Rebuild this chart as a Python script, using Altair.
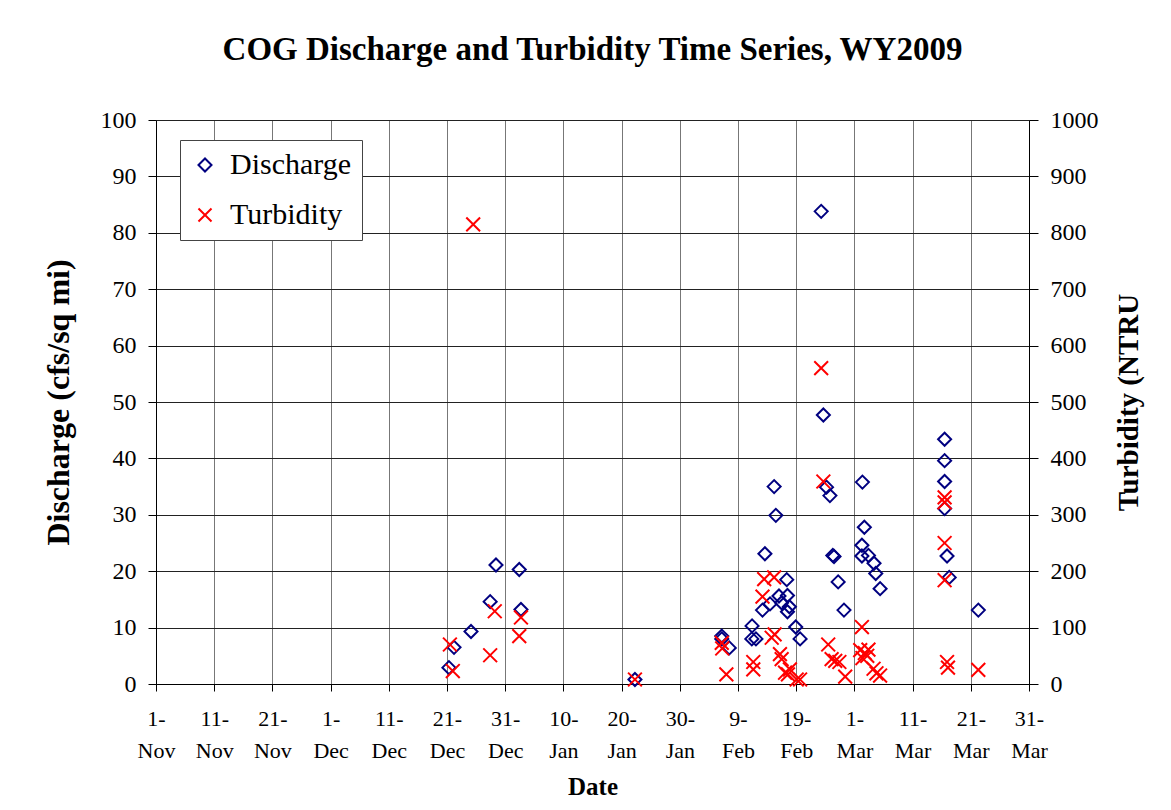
import altair as alt
import pandas as pd

# ---------------- data ----------------
discharge_dates = [
    "2008-12-21T08:00:00Z", "2008-12-22T05:00:00Z", "2008-12-25T03:00:00Z",
    "2008-12-28T10:00:00Z", "2008-12-29T10:00:00Z", "2009-01-02T10:00:00Z",
    "2009-01-02T17:00:00Z", "2009-01-22T07:00:00Z",
    "2009-02-06T05:00:00Z", "2009-02-06T05:00:00Z", "2009-02-07T12:00:00Z",
    "2009-02-11T10:00:00Z", "2009-02-11T09:00:00Z", "2009-02-12T02:00:00Z",
    "2009-02-13T05:00:00Z", "2009-02-13T15:00:00Z", "2009-02-14T12:00:00Z",
    "2009-02-15T05:00:00Z", "2009-02-15T12:00:00Z", "2009-02-16T01:00:00Z",
    "2009-02-16T12:00:00Z", "2009-02-17T09:00:00Z", "2009-02-17T12:00:00Z",
    "2009-02-17T12:00:00Z", "2009-02-17T20:00:00Z", "2009-02-18T22:00:00Z",
    "2009-02-19T16:00:00Z", "2009-02-23T07:00:00Z", "2009-02-23T16:00:00Z",
    "2009-02-24T05:00:00Z", "2009-02-24T19:00:00Z", "2009-02-25T07:00:00Z",
    "2009-02-25T12:00:00Z", "2009-02-26T05:00:00Z", "2009-02-27T05:00:00Z",
    "2009-03-02T09:00:00Z", "2009-03-02T17:00:00Z", "2009-03-02T07:00:00Z",
    "2009-03-02T07:00:00Z", "2009-03-03T10:00:00Z", "2009-03-04T09:00:00Z",
    "2009-03-04T16:00:00Z", "2009-03-05T10:00:00Z",
    "2009-03-16T12:00:00Z", "2009-03-16T12:00:00Z", "2009-03-16T12:00:00Z",
    "2009-03-16T12:00:00Z", "2009-03-16T22:00:00Z", "2009-03-17T07:00:00Z",
    "2009-03-22T07:00:00Z",
]
discharge_values = [
    2.9, 6.5, 9.3, 14.6, 21.1, 20.3, 13.2, 0.8,
    8.5, 8.0, 6.4, 10.3, 8.0, 8.0, 13.1, 23.1, 14.2, 35.0, 29.9, 15.6,
    14.4, 18.5, 15.7, 12.8, 13.7, 10.1, 8.0, 83.8, 47.7, 34.9, 33.4, 22.8,
    22.6, 18.1, 13.1,
    35.8, 27.8, 24.6, 22.7, 22.8, 21.4, 19.6, 16.9,
    43.4, 39.6, 35.9, 31.1, 22.7, 18.9, 13.1,
]

turbidity_dates = [
    "2008-12-21T12:00:00Z", "2008-12-22T00:00:00Z", "2008-12-25T12:00:00Z",
    "2008-12-28T10:00:00Z", "2008-12-29T05:00:00Z", "2009-01-02T10:00:00Z",
    "2009-01-02T17:00:00Z", "2009-01-22T07:00:00Z",
    "2009-02-06T05:00:00Z", "2009-02-06T07:00:00Z", "2009-02-07T00:00:00Z",
    "2009-02-11T15:00:00Z", "2009-02-11T15:00:00Z", "2009-02-13T05:00:00Z",
    "2009-02-13T12:00:00Z", "2009-02-15T05:00:00Z", "2009-02-14T19:00:00Z",
    "2009-02-15T07:00:00Z", "2009-02-16T05:00:00Z", "2009-02-16T12:00:00Z",
    "2009-02-17T02:00:00Z", "2009-02-17T22:00:00Z", "2009-02-17T14:00:00Z",
    "2009-02-19T02:00:00Z", "2009-02-19T16:00:00Z",
    "2009-02-23T07:00:00Z", "2009-02-23T16:00:00Z", "2009-02-24T12:00:00Z",
    "2009-02-25T02:00:00Z", "2009-02-25T17:00:00Z", "2009-02-26T10:00:00Z",
    "2009-02-27T10:00:00Z",
    "2009-03-02T07:00:00Z", "2009-03-02T00:00:00Z", "2009-03-02T19:00:00Z",
    "2009-03-03T10:00:00Z", "2009-03-02T09:00:00Z", "2009-03-03T05:00:00Z",
    "2009-03-04T07:00:00Z", "2009-03-04T19:00:00Z", "2009-03-05T10:00:00Z",
    "2009-03-16T12:00:00Z", "2009-03-16T12:00:00Z", "2009-03-16T12:00:00Z",
    "2009-03-16T12:00:00Z", "2009-03-16T22:00:00Z", "2009-03-17T02:00:00Z",
    "2009-03-22T07:00:00Z",
]
turbidity_values = [
    70, 23, 815, 51, 129, 85, 118, 8,
    73, 63, 17, 39, 26, 155, 186, 189, 82, 88, 53, 44, 20, 26, 17, 8, 8,
    560, 359, 70, 44, 41, 39, 13,
    101, 60, 55, 61, 46, 50, 27, 19, 15,
    331, 322, 250, 184, 39, 29, 25,
]

x_tick_dates = [
    (2008, 11, 1), (2008, 11, 11), (2008, 11, 21), (2008, 12, 1),
    (2008, 12, 11), (2008, 12, 21), (2008, 12, 31), (2009, 1, 10),
    (2009, 1, 20), (2009, 1, 30), (2009, 2, 9), (2009, 2, 19),
    (2009, 3, 1), (2009, 3, 11), (2009, 3, 21), (2009, 3, 31),
]
left_ticks = [0, 10, 20, 30, 40, 50, 60, 70, 80, 90, 100]
right_ticks = [0, 100, 200, 300, 400, 500, 600, 700, 800, 900, 1000]
series_names = ["Discharge", "Turbidity"]
series_colors = ["#000080", "#FF0000"]
series_shapes = ["diamond", "M-1,-1L1,1M-1,1L1,-1"]

# ---------------- tables ----------------
dis = pd.DataFrame({"Date": discharge_dates, "Value": discharge_values, "Series": "Discharge"})
tur = pd.DataFrame({"Date": turbidity_dates, "Value": turbidity_values, "Series": "Turbidity"})

FONT = "Liberation Serif"

def dt(t):
    return alt.DateTime(year=t[0], month=t[1], date=t[2], utc=True)

x_enc = alt.X(
    "Date:T",
    scale=alt.Scale(type="utc", domain=[dt(x_tick_dates[0]), dt(x_tick_dates[-1])]),
    axis=alt.Axis(
        values=[dt(t) for t in x_tick_dates],
        labelExpr="[utcFormat(datum.value, '%-d') + '-', utcFormat(datum.value, '%b')]",
        labelFont=FONT, labelFontSize=22, labelLineHeight=32, labelColor="black",
        labelAngle=0, labelFlush=False, labelOverlap=False, labelPadding=17,
        tickSize=7, tickColor="black", domainColor="black",
        grid=True, gridColor="#777777", gridWidth=1,
        title="Date", titleFont=FONT, titleFontSize=25, titleFontWeight="bold",
        titleColor="black", titlePadding=13,
    ),
)

color_enc = alt.Color(
    "Series:N",
    scale=alt.Scale(domain=series_names, range=series_colors),
    legend=alt.Legend(
        title=None, orient="none", legendX=24, legendY=20,
        fillColor="white", strokeColor="#444444", padding=10,
        labelFont=FONT, labelFontSize=30, labelColor="black",
        symbolSize=170, symbolStrokeWidth=2, symbolOpacity=1,
        labelOffset=10, rowPadding=20,
    ),
)
shape_enc = alt.Shape("Series:N", scale=alt.Scale(domain=series_names, range=series_shapes))

left = alt.Chart(dis).mark_point(filled=False, size=170, strokeWidth=2, opacity=1).encode(
    x=x_enc,
    y=alt.Y(
        "Value:Q",
        scale=alt.Scale(domain=[0, 100], nice=False),
        axis=alt.Axis(
            values=left_ticks, orient="left", format="d",
            labelFont=FONT, labelFontSize=24, labelColor="black", labelPadding=12,
            tickSize=8, tickColor="black", domainColor="black",
            grid=True, gridColor="#222222", gridWidth=1,
            title="Discharge (cfs/sq mi)", titleFont=FONT, titleFontSize=32,
            titleFontWeight="bold", titleColor="black", titlePadding=25,
        ),
    ),
    color=color_enc,
    shape=shape_enc,
)

right = alt.Chart(tur).mark_point(filled=False, size=190, strokeWidth=2, opacity=1).encode(
    x=x_enc,
    y=alt.Y(
        "Value:Q",
        scale=alt.Scale(domain=[0, 1000], nice=False),
        axis=alt.Axis(
            values=right_ticks, orient="right", format="d",
            labelFont=FONT, labelFontSize=24, labelColor="black", labelPadding=12,
            tickSize=9, tickColor="black", domainColor="black",
            grid=False,
            title="Turbidity (NTRU", titleFont=FONT, titleFontSize=29,
            titleFontWeight="bold", titleColor="black", titlePadding=45,
            titleAngle=270,
        ),
    ),
    color=color_enc,
    shape=shape_enc,
)

chart = (
    alt.layer(left, right)
    .resolve_scale(y="independent")
    .properties(
        width=873,
        height=564,
        autosize=alt.AutoSizeParams(type="none"),
        padding={"left": 148, "top": 112, "right": 134, "bottom": 118},
        title=alt.TitleParams(
            "COG Discharge and Turbidity Time Series, WY2009",
            font=FONT, fontSize=33, fontWeight="bold", color="black",
            anchor="middle", frame="group", offset=41,
        ),
    )
    .configure_view(stroke=None)
    .configure(background="white")
)

chart.save("out.html", embed_options={"renderer": "svg", "actions": False})
